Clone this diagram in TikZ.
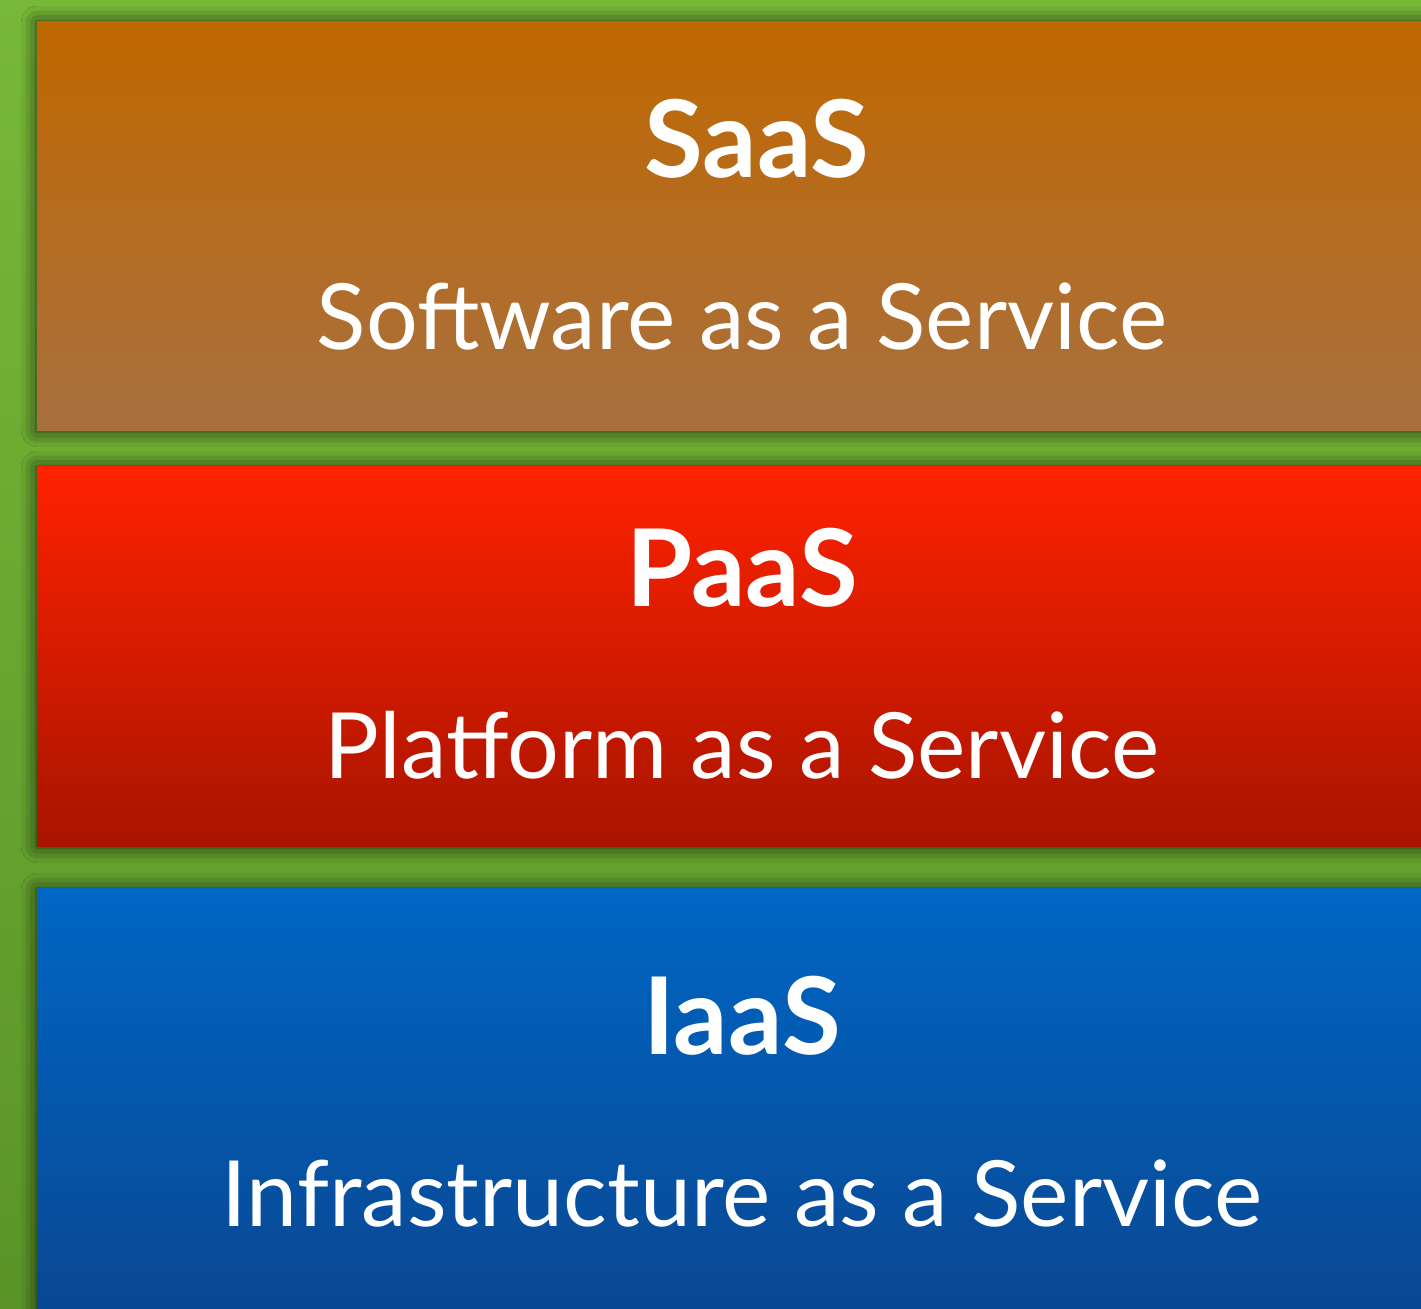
\documentclass[tikz,border=0pt]{standalone}
\usepackage{fontspec}
\setmainfont{Lato}
\usetikzlibrary{calc}
\usetikzlibrary{shadows.blur}

\definecolor{grassTop}{HTML}{78B838}
\definecolor{grassBot}{HTML}{5A9428}
\definecolor{saasTop}{HTML}{C06800}
\definecolor{saasBot}{HTML}{A87040}
\definecolor{paasTop}{HTML}{FF2200}
\definecolor{paasBot}{HTML}{A81400}
\definecolor{iaasTop}{HTML}{0066C4}
\definecolor{iaasBot}{HTML}{0A4690}

\tikzset{
  layer/.style={blur shadow={shadow xshift=0pt, shadow yshift=0pt, shadow blur radius=9pt, shadow opacity=75}},
  title/.style={anchor=base, text=white, font=\fontsize{61}{64}\selectfont\bfseries},
  subtitle/.style={anchor=base, text=white, font=\fontsize{52}{60}\selectfont}
}

\begin{document}
\begin{tikzpicture}
\useasboundingbox (0,0) rectangle (28.42,26.18);
\shade[top color=grassTop, bottom color=grassBot] (0,0) rectangle (28.42,26.18);

% the three layers
\shade[layer, top color=saasTop, bottom color=saasBot] (0.74,17.56) rectangle (28.42,25.74);
\shade[layer, top color=paasTop, bottom color=paasBot] (0.74,9.24) rectangle (28.42,16.84);
\shade[layer, top color=iaasTop, bottom color=iaasBot] (0.74,-0.5) rectangle (28.42,8.4);

\node[title] (saas) at (15.14,22.62) {SaaS};
\node[subtitle] (saasname) at (14.84,19.18) {Software as a Service};
\node[title] (paas) at (14.84,14.04) {PaaS};
\node[subtitle] (paasname) at (14.84,10.6) {Platform as a Service};
\node[title] (iaas) at (14.84,5.08) {IaaS};
\node[subtitle] (iaasname) at (14.84,1.64) {Infrastructure as a Service};
\end{tikzpicture}
\end{document}
